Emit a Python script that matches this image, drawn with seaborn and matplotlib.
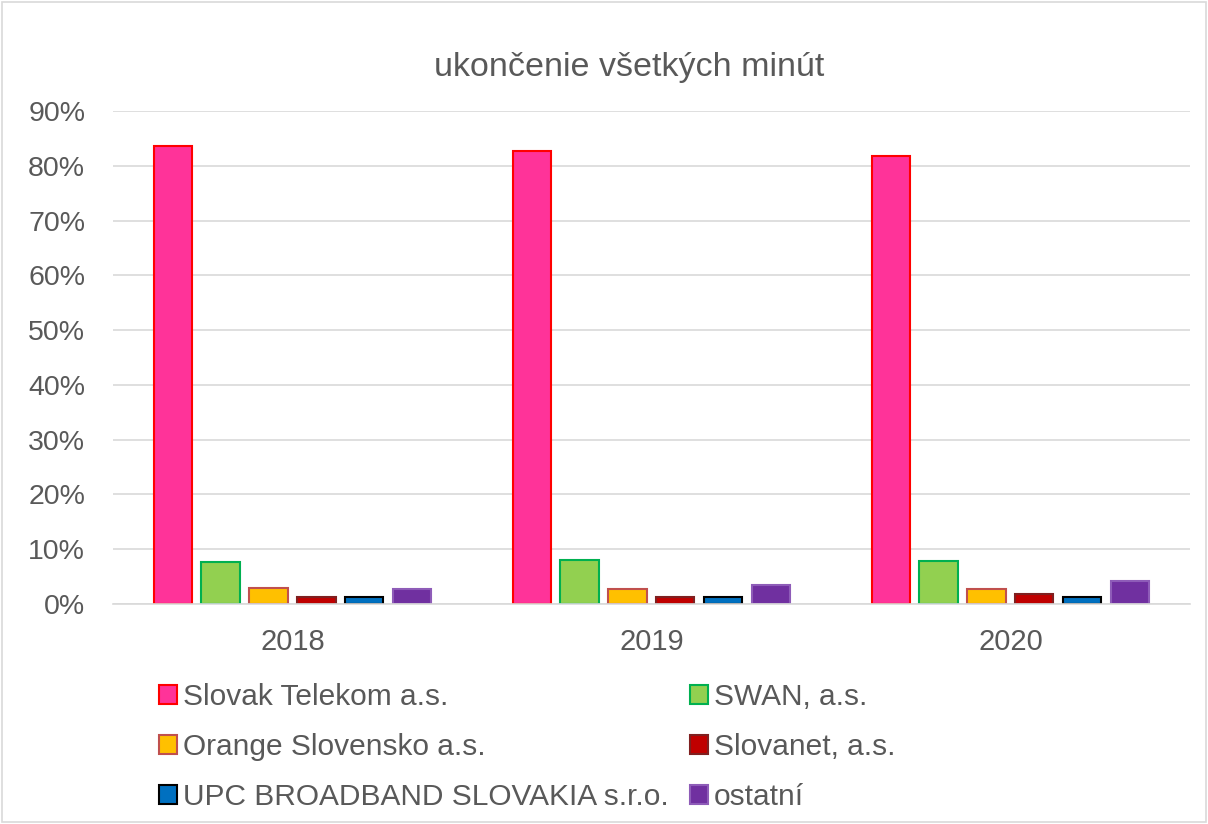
import pandas as pd
import matplotlib.pyplot as plt
import seaborn as sns
from matplotlib.patches import Rectangle
from matplotlib.ticker import PercentFormatter

years = ["2018", "2019", "2020"]
operators = ["Slovak Telekom a.s.", "SWAN, a.s.", "Orange Slovensko a.s.",
             "Slovanet, a.s.", "UPC BROADBAND SLOVAKIA s.r.o.", "ostatní"]
telekom = [83.6, 82.8, 81.8]
swan = [7.7, 8.0, 7.8]
orange = [3.0, 2.7, 2.7]
slovanet = [1.3, 1.3, 1.9]
upc = [1.2, 1.2, 1.2]
ostatni = [2.7, 3.5, 4.2]

fills = ["#FF3399", "#92D050", "#FFC000", "#C00000", "#0070C0", "#7030A0"]
edges = ["#FF0000", "#00B050", "#C0504D", "#7F2020", "#000000", "#8E5CB8"]

rows = []
for name, vals in zip(operators, [telekom, swan, orange, slovanet, upc, ostatni]):
    for y, v in zip(years, vals):
        rows.append({"rok": y, "operator": name, "podiel": v})
df = pd.DataFrame(rows)

sns.set_style("white")
plt.rcParams['font.family'] = ['Liberation Sans', 'DejaVu Sans']

fig = plt.figure(figsize=(12.08, 8.24), dpi=100)
ax = fig.add_axes([0.0935, 0.267, 0.8915, 0.598])

sns.barplot(data=df, x="rok", y="podiel", hue="operator", hue_order=operators,
            palette=fills, saturation=1, gap=0.2, width=0.8, ax=ax, legend=False)

for cont, ec in zip(ax.containers, edges):
    for bar in cont:
        bar.set_edgecolor(ec)
        bar.set_linewidth(1.5)

ax.set_ylim(0, 90)
ax.set_xlim(-0.5, 2.5)
ax.set_yticks(range(0, 91, 10))
ax.yaxis.set_major_formatter(PercentFormatter(decimals=0))
ax.grid(axis="y", color="#D9D9D9", linewidth=1.2)
ax.set_axisbelow(True)
for s in ["top", "right", "left"]:
    ax.spines[s].set_visible(False)
ax.spines["bottom"].set_color("#D9D9D9")
ax.spines["bottom"].set_linewidth(1.2)
ax.tick_params(axis="y", length=0, labelsize=20.5, colors="#595959", pad=20)
ax.tick_params(axis="x", length=0, labelsize=21, colors="#595959", pad=17)
ax.set_xlabel("")
ax.set_ylabel("")

fig.text(0.521, 0.918, "ukončenie všetkých minút", ha="center", va="center",
         fontsize=24.5, color="#595959")

handles = [Rectangle((0, 0), 1, 1, facecolor=f, edgecolor=e, linewidth=1.5)
           for f, e in zip(fills, edges)]
order = [0, 2, 4, 1, 3, 5]
fig.legend([handles[i] for i in order], [operators[i] for i in order],
           ncol=2, loc="upper left", bbox_to_anchor=(0.122, 0.186),
           frameon=False, fontsize=21.5, labelcolor="#595959",
           handlelength=0.6, handleheight=0.6, handletextpad=0.2,
           columnspacing=0.7, labelspacing=0.75, borderaxespad=0)

fig.patches.append(Rectangle((0.002, 0.002), 0.996, 0.996, transform=fig.transFigure,
                             fill=False, edgecolor="#D9D9D9", linewidth=1.2))

fig.savefig("out.png", dpi=100)
